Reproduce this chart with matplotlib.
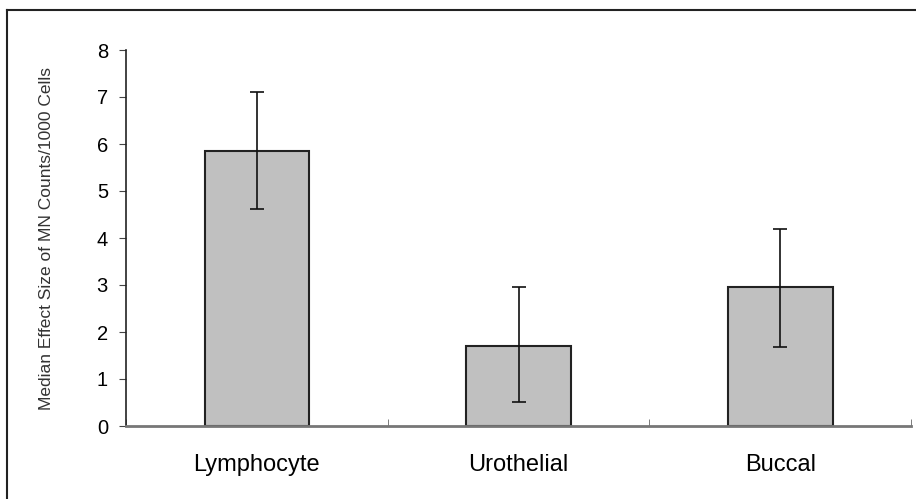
import matplotlib
matplotlib.use("Agg")
import matplotlib.pyplot as plt
from matplotlib.lines import Line2D

plt.rcParams['font.family'] = ['Liberation Sans', 'DejaVu Sans']

# data
celulas = ["Lymphocyte", "Urothelial", "Buccal"]
mediana = [5.85, 1.70, 2.96]
erro_sup = [7.10, 2.96, 4.19]
erro_inf = [4.62, 0.51, 1.68]

ids = [x for x in range(len(celulas))]
yerr = [[m - lo for m, lo in zip(mediana, erro_inf)],
        [hi - m for m, hi in zip(mediana, erro_sup)]]

fig = plt.figure(figsize=(9.16, 4.99), dpi=100)
ax = fig.add_axes([126/916, 1 - 426/499, 785/916, 376/499])

ax.bar(ids, mediana, width=0.4, color="#c0c0c0", edgecolor="#222222", linewidth=1.5, zorder=2)
ax.errorbar(ids, mediana, yerr=yerr, fmt="none", ecolor="#111111", elinewidth=1.2,
            capsize=5, capthick=1.2, zorder=3)

ax.set_xlim(-0.5, 2.5)
ax.set_ylim(0, 8)
ax.set_yticks(range(0, 9))
ax.set_xticks(ids)
ax.set_xticklabels(celulas, fontsize=17)
ax.set_xticks([-0.5, 0.5, 1.5, 2.5], minor=True)
ax.tick_params(axis="x", which="major", length=0, pad=20)
ax.tick_params(axis="x", which="minor", length=5, direction="in", color="#666666")
ax.tick_params(axis="y", length=5, direction="out", labelsize=14.5, pad=8, color="#444444")
ax.set_ylabel("Median Effect Size of MN Counts/1000 Cells", fontsize=12.5, color="#333333")
ax.yaxis.set_label_coords(-72/785, 0.5)

for s in ["top", "right"]:
    ax.spines[s].set_visible(False)
ax.spines["left"].set_color("#222222")
ax.spines["left"].set_linewidth(1.2)
ax.spines["bottom"].set_color("#777777")
ax.spines["bottom"].set_linewidth(2)

# moldura da figura
fig.add_artist(Line2D([7/916, 7/916], [0, 1 - 10/499], color="#222222", linewidth=1.5))
fig.add_artist(Line2D([7/916, 1], [1 - 10/499, 1 - 10/499], color="#222222", linewidth=1.5))

fig.savefig("out.png", dpi=100)
